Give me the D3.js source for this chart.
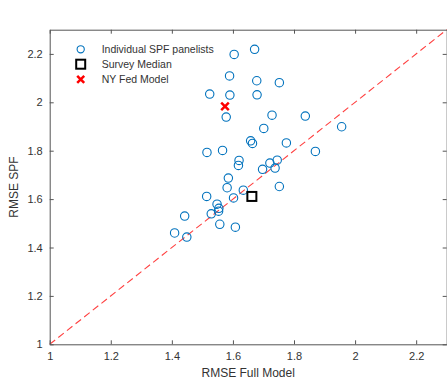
<!DOCTYPE html>
<html><head><meta charset="utf-8">
<script src="https://cdn.jsdelivr.net/npm/d3@7"></script>
<style>html,body{margin:0;padding:0;background:#fff;}svg{display:block;}</style>
</head><body>
<svg id="c" width="447" height="380"></svg>
<script>
const panelX = [1.604,1.671,1.589,1.678,1.752,1.524,1.590,1.679,1.578,1.728,1.837,1.956,1.701,1.658,1.664,1.775,1.515,1.566,1.870,1.620,1.618,1.697,1.721,1.745,1.738,1.585,1.581,1.634,1.752,1.514,1.602,1.548,1.554,1.553,1.529,1.442,1.557,1.608,1.409,1.449];
const panelY = [2.198,2.219,2.109,2.089,2.081,2.034,2.030,2.031,1.939,1.947,1.943,1.899,1.892,1.841,1.830,1.832,1.793,1.801,1.797,1.760,1.739,1.723,1.749,1.761,1.728,1.687,1.647,1.637,1.652,1.611,1.605,1.579,1.562,1.550,1.539,1.530,1.496,1.484,1.460,1.443];
const medianPt = [1.662, 1.611];
const nyFedPt = [1.574, 1.983];
const xTicks = [1, 1.2, 1.4, 1.6, 1.8, 2, 2.2];
const yTicks = [1, 1.2, 1.4, 1.6, 1.8, 2, 2.2];
const domain = [1, 2.3];
const legendLabels = ["Individual SPF panelists", "Survey Median", "NY Fed Model"];

const svg = d3.select("#c");
const L = 49.7, R = 446.7, T = 29.7, B = 344.3;
const x = d3.scaleLinear().domain(domain).range([L, R]);
const y = d3.scaleLinear().domain(domain).range([B, T]);
const axisCol = "#555", textCol = "#333";
const font = "Liberation Sans, Arial, sans-serif";

// diagonal
svg.append("line")
  .attr("x1", x(domain[0])).attr("y1", y(domain[0]))
  .attr("x2", x(domain[1])).attr("y2", y(domain[1]))
  .attr("stroke", "#ff4040").attr("stroke-width", 1.1)
  .attr("stroke-dasharray", "7,4");

// axes
const fmt = d => d3.format("~g")(d);
const gx = svg.append("g").attr("transform", `translate(0,${B})`)
  .call(d3.axisBottom(x).tickValues(xTicks).tickFormat(fmt).tickSizeInner(-4).tickSizeOuter(0).tickPadding(8));
const gxt = svg.append("g").attr("transform", `translate(0,${T})`)
  .call(d3.axisTop(x).tickValues(xTicks).tickFormat("").tickSizeInner(-4).tickSizeOuter(0));
const gy = svg.append("g").attr("transform", `translate(${L},0)`)
  .call(d3.axisLeft(y).tickValues(yTicks).tickFormat(fmt).tickSizeInner(-4).tickSizeOuter(0).tickPadding(7));
const gyr = svg.append("g").attr("transform", `translate(${R},0)`)
  .call(d3.axisRight(y).tickValues(yTicks).tickFormat("").tickSizeInner(-4).tickSizeOuter(0));
[gx, gxt, gy, gyr].forEach(g => {
  g.select(".domain").attr("stroke", axisCol).attr("stroke-width", 1);
  g.selectAll(".tick line").attr("stroke", axisCol);
  g.selectAll("text").attr("fill", textCol).attr("font-family", font).attr("font-size", 11);
});

// axis titles
svg.append("text").attr("x", (L + R) / 2).attr("y", 377)
  .attr("text-anchor", "middle").attr("font-family", font).attr("font-size", 12).attr("fill", textCol)
  .text("RMSE Full Model");
svg.append("text").attr("transform", `translate(18,${(T + B) / 2}) rotate(-90)`)
  .attr("text-anchor", "middle").attr("font-family", font).attr("font-size", 12).attr("fill", textCol)
  .text("RMSE SPF");

// panelists
svg.append("g").selectAll("circle").data(d3.zip(panelX, panelY)).join("circle")
  .attr("cx", d => x(d[0])).attr("cy", d => y(d[1])).attr("r", 4.2)
  .attr("fill", "none").attr("stroke", "#0072BD").attr("stroke-width", 1.1);

// median square
const s = 9;
svg.append("rect").attr("x", x(medianPt[0]) - s / 2).attr("y", y(medianPt[1]) - s / 2)
  .attr("width", s).attr("height", s).attr("fill", "none").attr("stroke", "#000").attr("stroke-width", 2);

// NY Fed X
function drawX(cx, cy, h) {
  svg.append("path").attr("d", `M${cx - h},${cy - h}L${cx + h},${cy + h}M${cx - h},${cy + h}L${cx + h},${cy - h}`)
    .attr("stroke", "#ff0000").attr("stroke-width", 2.5).attr("fill", "none");
}
drawX(x(nyFedPt[0]), y(nyFedPt[1]), 3.8);

// legend
const lx = 80.7, ly = [49.3, 64.2, 79.4], tx = 101.7;
svg.append("circle").attr("cx", lx).attr("cy", ly[0]).attr("r", 3.6)
  .attr("fill", "none").attr("stroke", "#0072BD").attr("stroke-width", 1.1);
svg.append("rect").attr("x", lx - 4.5).attr("y", ly[1] - 4.5).attr("width", 9).attr("height", 9)
  .attr("fill", "none").attr("stroke", "#000").attr("stroke-width", 2);
drawX(lx, ly[2], 3.5);
legendLabels.forEach((t, i) => {
  svg.append("text").attr("x", tx).attr("y", ly[i]).attr("dy", "0.35em")
    .attr("font-family", font).attr("font-size", 10.5).attr("fill", textCol).text(t);
});
</script>
</body></html>
